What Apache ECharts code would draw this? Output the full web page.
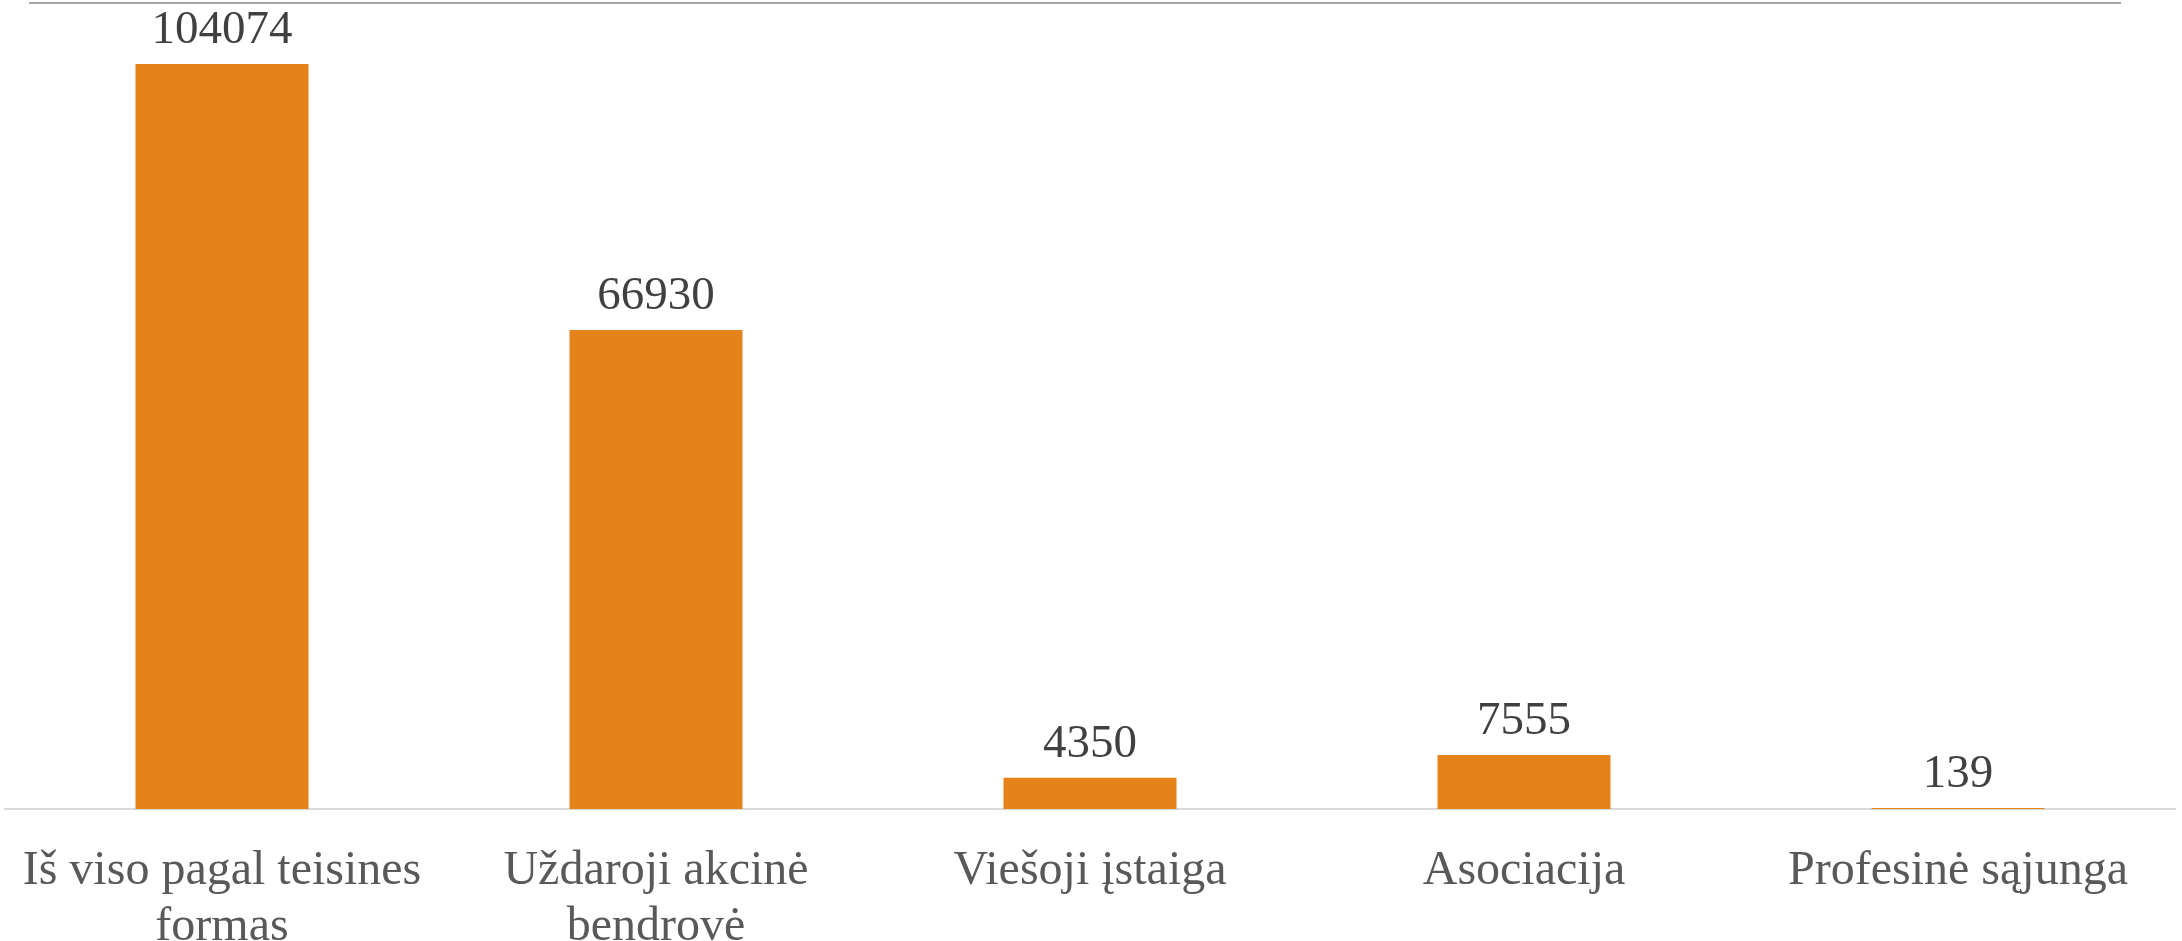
<!DOCTYPE html>
<html>
<head>
<meta charset="utf-8">
<script src="https://cdn.jsdelivr.net/npm/echarts@6/dist/echarts.min.js"></script>
<style>
  html, body { margin: 0; padding: 0; background: #fff; }
  #chart { width: 2182px; height: 941px; }
</style>
</head>
<body>
<div id="chart"></div>
<script>
var categories = [
  'Iš viso pagal teisines\nformas',
  'Uždaroji akcinė\nbendrovė',
  'Viešoji įstaiga',
  'Asociacija',
  'Profesinė sąjunga'
];
var values = [104074, 66930, 4350, 7555, 139];

var myChart = echarts.init(document.getElementById('chart'));
var option = {
  animation: false,
  grid: {
    left: 5,
    right: 7,
    top: 3,
    bottom: 132,
    outerBoundsMode: 'none',
    containLabel: false
  },
  xAxis: {
    type: 'category',
    data: categories,
    axisLine: { lineStyle: { color: '#d9d9d9', width: 2 } },
    axisTick: { show: false },
    axisLabel: {
      interval: 0,
      margin: 34,
      color: '#595959',
      fontFamily: 'Liberation Serif',
      fontSize: 48,
      lineHeight: 56
    }
  },
  yAxis: {
    type: 'value',
    min: 0,
    max: 112600,
    show: false
  },
  graphic: [
    {
      type: 'line',
      shape: { x1: 29, y1: 3, x2: 2121, y2: 3 },
      style: { stroke: '#a6a6a6', lineWidth: 2 }
    }
  ],
  series: [
    {
      type: 'bar',
      data: values,
      barWidth: 173,
      itemStyle: { color: '#e5821a' },
      label: {
        show: true,
        position: 'top',
        distance: 10,
        color: '#404040',
        fontFamily: 'Liberation Serif',
        fontSize: 47
      }
    }
  ]
};
option && myChart.setOption(option);
</script>
</body>
</html>
